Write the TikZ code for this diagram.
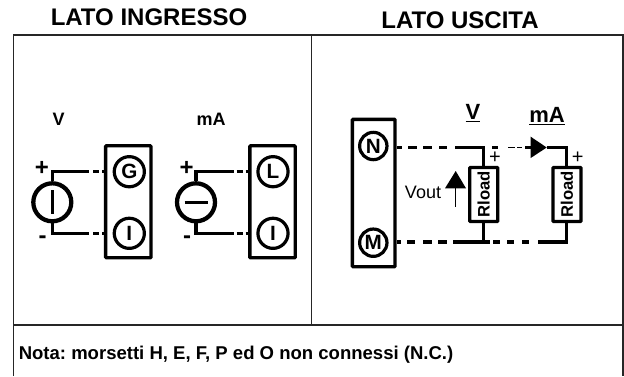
\documentclass[tikz,border=0pt]{standalone}
\usepackage{fontspec}
\setmainfont{Liberation Sans}
\frenchspacing
\tikzset{
  x=0.75pt,y=-0.75pt,
  frameline/.style={draw=black!85,line width=0.8pt},
  wire/.style={draw=black,line width=2.6pt},
  thinwire/.style={draw=black,line width=1.3pt},
  boxl/.style={draw=black,line width=2.5pt,rounded corners=0.6pt,fill=white,inner sep=0pt},
  term/.style={circle,draw=black,line width=2.4pt,fill=white,inner sep=0pt,font=\bfseries\fontsize{15.5}{16}\selectfont},
  termL/.style={term,minimum size=22.6pt},
  termR/.style={term,minimum size=20.5pt},
  src/.style={circle,draw=black,line width=3.2pt,fill=white,minimum size=28.5pt,inner sep=0pt},
  title/.style={font=\bfseries\fontsize{18}{20}\selectfont,inner sep=0pt},
  lab/.style={font=\bfseries\fontsize{13.5}{15}\selectfont,inner sep=0pt},
  pm/.style={font=\bfseries\fontsize{18}{18}\selectfont,inner sep=0pt},
  plain/.style={font=\fontsize{13.5}{15}\selectfont,inner sep=0pt},
  rl/.style={draw=black,line width=2.5pt,rounded corners=0.6pt,fill=white,rotate=90,minimum width=40.5pt,minimum height=21pt,inner sep=0pt,font=\bfseries\fontsize{12.5}{14}\selectfont},
  smallplus/.style={font=\fontsize{15}{16}\selectfont,inner sep=0pt},
  ulab/.style={font=\bfseries\fontsize{16.5}{18}\selectfont,inner sep=0pt},
}
\begin{document}
\begin{tikzpicture}
\useasboundingbox (0,0) rectangle (624,376);
% titles
\node[title] (t1) at (149,17) {LATO INGRESSO};
\node[title] (t2) at (460,20) {LATO USCITA};
% frame
\coordinate (fa) at (13.5,376); \coordinate (fb) at (13.5,35); \coordinate (fc) at (623,35); \coordinate (fd) at (623,376);
\draw[frameline] (fa) -- (fb) -- (fc) -- (fd);
\coordinate (ma) at (311.5,35); \coordinate (mb) at (311.5,325);
\draw[frameline] (ma) -- (mb);
\coordinate (sa) at (13.5,325); \coordinate (sb) at (623,325);
\draw[draw=black!85,line width=1.6pt] (sa) -- (sb);
\node[font=\bfseries\fontsize{13.9}{15}\selectfont,inner sep=0pt,anchor=west] (note) at (18.5,355) {Nota: morsetti H, E, F, P ed O non connessi (N.C.)};
% left: V
\node[lab] (lv) at (58.7,119) {V};
\node[lab] (lma) at (211,119) {mA};
\node[boxl,minimum width=34pt,minimum height=84pt] (bg) at (128.3,201.8) {};
\node[termL] (G) at (129.3,171.7) {G};
\node[termL] (I1) at (129.3,233.3) {I};
\node[src] (s1) at (52.3,202.3) {};
\coordinate (s1t) at (52.3,171.7); \coordinate (s1b) at (52.3,233.3);
\coordinate (g1) at (89,171.7); \coordinate (g2) at (93,171.7); \coordinate (g3) at (99,171.7); \coordinate (g5) at (102,171.7); \coordinate (g4) at (bg.west|-g1);
\coordinate (i1) at (89,233.3); \coordinate (i2) at (93,233.3); \coordinate (i3) at (99,233.3); \coordinate (i5) at (102,233.3); \coordinate (i4) at (bg.west|-i1);
\draw[wire] (s1.north) -- (s1t) -- (g1) (g2) -- (g3) (g5) -- (g4);
\draw[wire] (s1.south) -- (s1b) -- (i1) (i2) -- (i3) (i5) -- (i4);
\coordinate (s1u) at (52.3,190); \coordinate (s1d) at (52.3,214);
\draw[line width=2pt] (s1u) -- (s1d);
\node[pm] (p1) at (42,168) {+};
\node[pm] (m1) at (42.7,240) {-};
% left: mA
\node[boxl,minimum width=34pt,minimum height=84pt] (bl) at (272.5,201.8) {};
\node[termL] (L) at (273,171.7) {L};
\node[termL] (I2) at (273,233.3) {I};
\node[src] (s2) at (196,202.3) {};
\coordinate (s2t) at (196,171.7); \coordinate (s2b) at (196,233.3);
\coordinate (h1) at (233.5,171.7); \coordinate (h2) at (236.5,171.7); \coordinate (h3) at (243,171.7); \coordinate (h5) at (245.5,171.7); \coordinate (h4) at (bl.west|-h1);
\coordinate (j1) at (233.5,233.3); \coordinate (j2) at (236.5,233.3); \coordinate (j3) at (243,233.3); \coordinate (j5) at (245.5,233.3); \coordinate (j4) at (bl.west|-j1);
\draw[wire] (s2.north) -- (s2t) -- (h1) (h2) -- (h3) (h5) -- (h4);
\draw[wire] (s2.south) -- (s2b) -- (j1) (j2) -- (j3) (j5) -- (j4);
\coordinate (s2l) at (184.5,202.3); \coordinate (s2r) at (207.5,202.3);
\draw[line width=2pt] (s2l) -- (s2r);
\node[pm] (p2) at (186.7,168) {+};
\node[pm] (m2) at (187,240) {-};
% right
\node[boxl,minimum width=32pt,minimum height=110.5pt] (bo) at (373.7,193) {};
\node[termR] (N) at (373.3,146) {N};
\node[termR] (M) at (373.3,242.7) {M};
\coordinate (c1) at (483.3,147.5); \coordinate (c2) at (566.7,147.5);
\coordinate (d1) at (483.3,241.8); \coordinate (d2) at (566.7,241.8);
\coordinate (ta) at (546.7,147.5);
% top line
\draw[wire] (397,147.5) -- (401.7,147.5) (408,147.5) -- (417,147.5) (423,147.5) -- (432,147.5) (439,147.5) -- (447,147.5);
\draw[wire] (455,147.5) -- (c1) -- (483.3,167);
\draw[wire] (492,147.5) -- (498,147.5);
\draw[thinwire] (508,147.5) -- (515,147.5) (517,147.5) -- (522,147.5);
\draw[wire] (525,147.5) -- (533,147.5);
\draw[wire] (ta) -- (c2) -- (566.7,167);
\fill (530.7,136.7) -- (ta) -- (530.7,158) -- cycle;
% bottom line
\draw[wire] (397,241.8) -- (401,241.8) (407,241.8) -- (415,241.8) (423,241.8) -- (432,241.8) (438,241.8) -- (447,241.8);
\draw[wire] (453,241.8) -- (490,241.8);
\draw[wire] (493,241.8) -- (500,241.8) (507,241.8) -- (514,241.8) (522,241.8) -- (529,241.8);
\draw[wire] (538,241.8) -- (d2) -- (566.7,222);
\draw[wire] (483.3,222) -- (d1);
\node[rl] (r1) at (483.7,194.5) {Rload};
\node[rl] (r2) at (567,194.5) {Rload};
\node[smallplus] (pl1) at (495,158) {+};
\node[smallplus] (pl2) at (577.7,158) {+};
\node[ulab] (uv) at (473,113) {\underline{V}};
\node[ulab] (uma) at (547,116) {\underline{mA}};
\node[plain] (vout) at (423,192.7) {Vout};
\coordinate (va) at (455.7,206.7); \coordinate (vb) at (455.7,185);
\draw[line width=0.8pt] (va) -- (vb);
\fill (455.7,171) -- (466,188.3) -- (445,188.3) -- cycle;
\end{tikzpicture}
\end{document}
